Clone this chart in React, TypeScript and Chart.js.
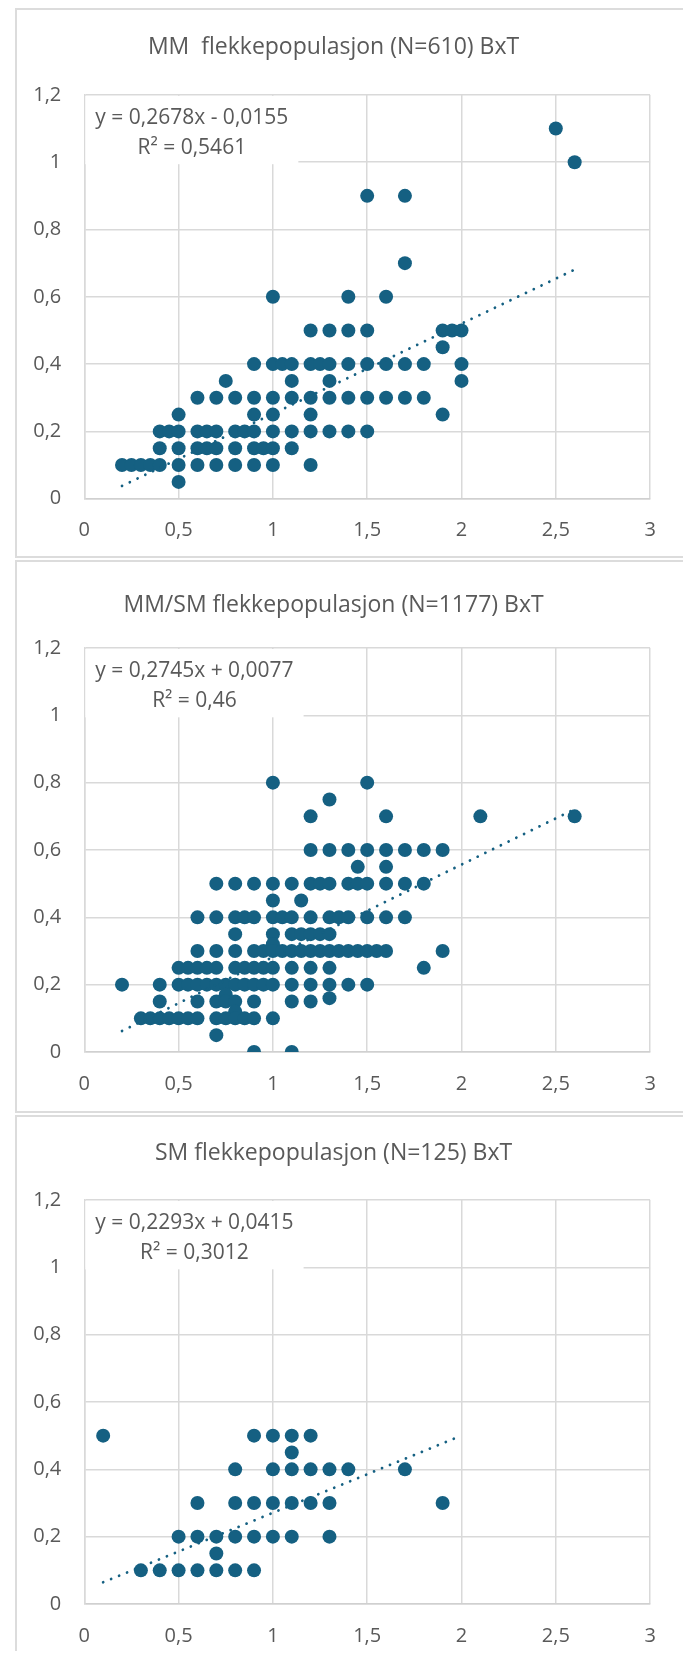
import React, { useEffect, useRef } from 'react';
import { Chart, registerables } from 'chart.js';

Chart.register(...registerables);

const FONT_FAMILY = '"Open Sans", "Noto Sans", sans-serif';
const TEXT_COLOR = '#595959';
const GRID_COLOR = '#d9d9d9';
const MARKER_COLOR = '#156082';

const xTickLabels = ['0', '0,5', '1', '1,5', '2', '2,5', '3'];
const yTickLabels = ['0', '0,2', '0,4', '0,6', '0,8', '1', '1,2'];

// ---- Chart 1: MM ----
const mmTitle = 'MM  flekkepopulasjon (N=610) BxT';
const mmLevels = [1.1, 1.0, 0.9, 0.7, 0.6, 0.5, 0.45, 0.4, 0.35, 0.3, 0.25, 0.2, 0.15, 0.1, 0.05];
const mmXs = [
  [2.5],
  [2.6],
  [1.5, 1.7],
  [1.7],
  [1.0, 1.4, 1.6],
  [1.2, 1.3, 1.4, 1.5, 1.9, 1.95, 2.0],
  [1.9],
  [0.9, 1.0, 1.05, 1.1, 1.2, 1.25, 1.3, 1.4, 1.5, 1.6, 1.7, 1.8, 2.0],
  [0.75, 1.1, 1.3, 2.0],
  [0.6, 0.7, 0.8, 0.9, 1.0, 1.1, 1.2, 1.3, 1.4, 1.5, 1.6, 1.7, 1.8],
  [0.5, 0.9, 1.0, 1.2, 1.9],
  [0.4, 0.45, 0.5, 0.6, 0.65, 0.7, 0.8, 0.85, 0.9, 1.0, 1.1, 1.2, 1.3, 1.4, 1.5],
  [0.4, 0.5, 0.6, 0.65, 0.7, 0.8, 0.9, 0.95, 1.0, 1.1],
  [0.2, 0.25, 0.3, 0.35, 0.4, 0.5, 0.6, 0.7, 0.8, 0.9, 1.0, 1.2],
  [0.5],
];
const mmTrend = [0.2678, -0.0155];
const mmTrendRange = [0.2, 2.6];
const mmEquation = ['y = 0,2678x - 0,0155', 'R² = 0,5461'];

// ---- Chart 2: MM/SM ----
const mmsmTitle = 'MM/SM flekkepopulasjon (N=1177) BxT';
const mmsmLevels = [0.8, 0.75, 0.7, 0.6, 0.55, 0.5, 0.45, 0.4, 0.35, 0.32, 0.3, 0.25, 0.2, 0.17, 0.16, 0.15, 0.12, 0.1, 0.05, 0];
const mmsmXs = [
  [1.0, 1.5],
  [1.3],
  [1.2, 1.6, 2.1, 2.6],
  [1.2, 1.3, 1.4, 1.5, 1.6, 1.7, 1.8, 1.9],
  [1.45, 1.6],
  [0.7, 0.8, 0.9, 1.0, 1.1, 1.2, 1.25, 1.3, 1.4, 1.45, 1.5, 1.6, 1.7, 1.8],
  [1.0, 1.15],
  [0.6, 0.7, 0.8, 0.85, 0.9, 1.0, 1.05, 1.1, 1.2, 1.3, 1.35, 1.4, 1.5, 1.6, 1.7],
  [0.8, 1.0, 1.1, 1.15, 1.2, 1.25, 1.3],
  [1.0],
  [0.6, 0.7, 0.8, 0.9, 0.95, 1.0, 1.05, 1.1, 1.15, 1.2, 1.25, 1.3, 1.35, 1.4, 1.45, 1.5, 1.55, 1.6, 1.9],
  [0.5, 0.55, 0.6, 0.65, 0.7, 0.8, 0.85, 0.9, 0.95, 1.0, 1.1, 1.2, 1.3, 1.8],
  [0.2, 0.4, 0.5, 0.55, 0.6, 0.65, 0.7, 0.75, 0.8, 0.85, 0.9, 0.95, 1.0, 1.1, 1.2, 1.3, 1.4, 1.5],
  [0.75],
  [1.3],
  [0.4, 0.6, 0.7, 0.75, 0.8, 0.9, 1.1, 1.2],
  [0.8],
  [0.3, 0.35, 0.4, 0.45, 0.5, 0.55, 0.6, 0.7, 0.75, 0.8, 0.85, 0.9, 1.0],
  [0.7],
  [0.9, 1.1],
];
const mmsmTrend = [0.2745, 0.0077];
const mmsmTrendRange = [0.2, 2.6];
const mmsmEquation = ['y = 0,2745x + 0,0077', 'R² = 0,46'];

// ---- Chart 3: SM ----
const smTitle = 'SM flekkepopulasjon (N=125) BxT';
const smLevels = [0.5, 0.45, 0.4, 0.3, 0.2, 0.15, 0.1];
const smXs = [
  [0.1, 0.9, 1.0, 1.1, 1.2],
  [1.1],
  [0.8, 1.0, 1.1, 1.2, 1.3, 1.4, 1.7],
  [0.6, 0.8, 0.9, 1.0, 1.1, 1.2, 1.3, 1.9],
  [0.5, 0.6, 0.7, 0.8, 0.9, 1.0, 1.1, 1.3],
  [0.7],
  [0.3, 0.4, 0.5, 0.6, 0.7, 0.8, 0.9],
];
const smTrend = [0.2293, 0.0415];
const smTrendRange = [0.1, 2.0];
const smEquation = ['y = 0,2293x + 0,0415', 'R² = 0,3012'];

// ---- layout (page geometry) ----
const PANEL_LEFT = 7;
const PANEL_WIDTH = 675;
const BORDER = 2;
const PLOT_LEFT = 67.3;
const PLOT_RIGHT_PAD = 37.9;

type PanelProps = {
  title: string;
  levels: number[];
  xs: number[][];
  trend: number[];
  range: number[];
  equation: string[];
  top: number;
  height: number;
  titleCenter: number;
  plotTop: number;
  plotBottom: number;
  noBottomBorder?: boolean;
};

const eqPlugin = {
  id: 'eqLabel',
  afterDatasetsDraw(chart: any, _args: any, opts: any) {
    const lines: string[] = opts.lines || [];
    if (!lines.length) return;
    const { ctx, chartArea } = chart;
    const yScale = chart.scales.y;
    ctx.save();
    ctx.font = `21px ${FONT_FAMILY}`;
    const w = Math.max(...lines.map((l: string) => ctx.measureText(l).width));
    const boxW = w + 20;
    const bottom = yScale.getPixelForValue(1) + 2;
    ctx.fillStyle = '#ffffff';
    ctx.fillRect(chartArea.left + 1, chartArea.top + 1, boxW, bottom - chartArea.top - 1);
    ctx.fillStyle = TEXT_COLOR;
    ctx.textAlign = 'center';
    ctx.textBaseline = 'middle';
    const cx = chartArea.left + 1 + boxW / 2;
    ctx.fillText(lines[0], cx, chartArea.top + 23);
    ctx.fillText(lines[1], cx, chartArea.top + 53);
    ctx.restore();
  },
};

function Panel(p: PanelProps) {
  const ref = useRef<HTMLCanvasElement | null>(null);
  const canvasW = PANEL_WIDTH - 2 * BORDER;
  const canvasH = p.height - BORDER - (p.noBottomBorder ? 0 : BORDER);

  useEffect(() => {
    if (!ref.current) return;
    const points: { x: number; y: number }[] = [];
    p.levels.forEach((y, i) => {
      p.xs[i].forEach((x) => points.push({ x, y }));
    });
    const trendPts = p.range.map((x) => ({ x, y: p.trend[0] * x + p.trend[1] }));
    const titleSize = 23;
    const titleLH = titleSize * 1.2;
    const padTop = p.titleCenter - titleLH / 2;
    const padBottom = p.plotTop - p.titleCenter - titleLH / 2;
    const xAxisH = canvasH - p.plotBottom;
    const tickFont = { family: FONT_FAMILY, size: 20 };

    const chart = new Chart(ref.current, {
      type: 'scatter',
      data: {
        datasets: [
          {
            type: 'line',
            data: trendPts,
            borderColor: MARKER_COLOR,
            borderWidth: 2.8,
            borderDash: [0.01, 8.6],
            borderCapStyle: 'round',
            pointRadius: 0,
            fill: false,
            order: 0,
          } as any,
          {
            type: 'scatter',
            data: points,
            backgroundColor: MARKER_COLOR,
            pointRadius: 7,
            pointHoverRadius: 7,
            pointBorderWidth: 0,
            order: 1,
          } as any,
        ],
      },
      options: {
        animation: false,
        responsive: false,
        maintainAspectRatio: false,
        devicePixelRatio: 1,
        events: [],
        layout: { padding: { left: 0, right: PLOT_RIGHT_PAD, top: 0, bottom: 0 }, autoPadding: false },
        plugins: {
          legend: { display: false },
          tooltip: { enabled: false },
          title: {
            display: true,
            text: p.title,
            color: TEXT_COLOR,
            font: { family: FONT_FAMILY, size: titleSize, weight: 'normal' },
            padding: { top: padTop, bottom: padBottom },
          },
          eqLabel: { lines: p.equation },
        } as any,
        scales: {
          x: {
            type: 'linear',
            min: 0,
            max: 3,
            position: 'bottom',
            ticks: {
              stepSize: 0.5,
              color: TEXT_COLOR,
              font: tickFont,
              padding: 20,
              maxRotation: 0,
              autoSkip: false,
              callback: (_v: any, i: number) => xTickLabels[i],
            },
            grid: { color: GRID_COLOR, lineWidth: 1.5, drawTicks: false },
            border: { display: true, color: '#d0d0d0', width: 1.5 },
            afterFit: (s: any) => {
              s.height = xAxisH;
            },
          },
          y: {
            type: 'linear',
            min: 0,
            max: 1.2,
            ticks: {
              stepSize: 0.2,
              color: TEXT_COLOR,
              font: tickFont,
              padding: 23,
              autoSkip: false,
              callback: (_v: any, i: number) => yTickLabels[i],
            },
            grid: { color: GRID_COLOR, lineWidth: 1.5, drawTicks: false },
            border: { display: true, color: GRID_COLOR, width: 1.5 },
            afterFit: (s: any) => {
              s.width = PLOT_LEFT;
            },
          },
        } as any,
      },
      plugins: [eqPlugin as any],
    });
    return () => chart.destroy();
  }, []);

  return (
    <div
      style={{
        position: 'absolute',
        left: PANEL_LEFT,
        top: p.top,
        width: PANEL_WIDTH,
        height: p.height,
        boxSizing: 'border-box',
        border: `${BORDER}px solid #dcdcdc`,
        borderBottom: p.noBottomBorder ? 'none' : `${BORDER}px solid #dcdcdc`,
        background: '#fff',
        overflow: 'hidden',
      }}
    >
      <canvas ref={ref} width={canvasW} height={canvasH} style={{ display: 'block', width: canvasW, height: canvasH }} />
    </div>
  );
}

export default function App() {
  return (
    <div style={{ position: 'relative', width: 675 + PANEL_LEFT, height: 1643, overflow: 'hidden' }}>
      <Panel
        title={mmTitle}
        levels={mmLevels}
        xs={mmXs}
        trend={mmTrend}
        range={mmTrendRange}
        equation={mmEquation}
        top={0}
        height={550}
        titleCenter={37}
        plotTop={84.9}
        plotBottom={488.7}
      />
      <Panel
        title={mmsmTitle}
        levels={mmsmLevels}
        xs={mmsmXs}
        trend={mmsmTrend}
        range={mmsmTrendRange}
        equation={mmsmEquation}
        top={552}
        height={553}
        titleCenter={43}
        plotTop={86}
        plotBottom={490}
      />
      <Panel
        title={smTitle}
        levels={smLevels}
        xs={smXs}
        trend={smTrend}
        range={smTrendRange}
        equation={smEquation}
        top={1107}
        height={536}
        titleCenter={36}
        plotTop={83}
        plotBottom={487}
        noBottomBorder
      />
    </div>
  );
}
